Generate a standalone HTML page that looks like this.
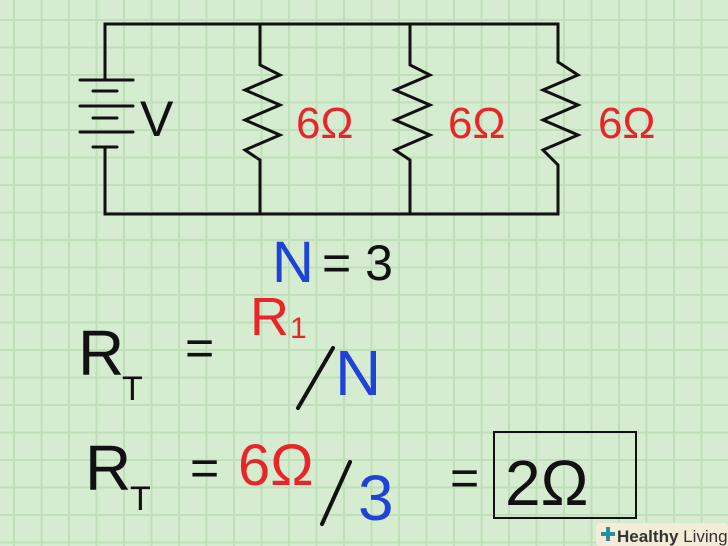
<!DOCTYPE html>
<html><head><style>
html,body{margin:0;padding:0;}
body{width:728px;height:546px;overflow:hidden;background:#d5ecd0;
background-image:linear-gradient(#bfdfb8 2px,transparent 2px),linear-gradient(90deg,#bfdfb8 2px,transparent 2px);
background-size:27.5px 27.5px;background-position:13px 19px;}
svg{position:absolute;left:0;top:0}
text{font-family:"Liberation Sans",sans-serif}
</style></head><body>
<svg width="728" height="546" viewBox="0 0 728 546">
<g stroke="#111" stroke-width="3" fill="none" stroke-linecap="round">
<polyline points="105,80 105,24 558,24 558,62"/>
<polyline points="105,147 105,214 558,214 558,170"/>
<line x1="80" y1="80" x2="133" y2="80"/><line x1="93" y1="91" x2="117" y2="91"/>
<line x1="80" y1="106" x2="133" y2="106"/><line x1="93" y1="118" x2="117" y2="118"/>
<line x1="80" y1="132" x2="133" y2="132"/><line x1="93" y1="147" x2="117" y2="147"/>
<polyline points="260,24 260,65 280,75 245,90 280,105 245,120 280,135 245,150 260,160 260,214"/>
<polyline points="410,24 410,65 430,75 395,90 430,105 395,120 430,135 395,150 410,160 410,214"/>
<polyline points="558,62 578,75 543,90 578,105 543,120 578,135 543,150 558,165 558,170"/>
<line x1="298" y1="408" x2="333" y2="348" stroke-width="4"/>
<line x1="322" y1="524" x2="350" y2="462" stroke-width="4"/>
</g>
<g font-size="50" fill="#111">
<text x="140" y="136">V</text>
</g>
<g font-size="44" fill="#e8262a">
<text x="296" y="138">6Ω</text><text x="448" y="138">6Ω</text><text x="598" y="138">6Ω</text>
</g>
<text x="272" y="282" font-size="58" fill="#1f43d8">N</text>
<text x="322" y="280" font-size="50" fill="#111">= 3</text>
<text x="78" y="375" font-size="64" fill="#111">R</text>
<text x="122" y="400" font-size="34" fill="#111">T</text>
<text x="185" y="365" font-size="50" fill="#111">=</text>
<text x="250" y="335" font-size="54" fill="#e8262a">R</text>
<text x="290" y="338" font-size="30" fill="#e8262a">1</text>
<text x="335" y="395" font-size="64" fill="#1f43d8">N</text>
<text x="85" y="490" font-size="64" fill="#111">R</text>
<text x="130" y="510" font-size="34" fill="#111">T</text>
<text x="190" y="485" font-size="50" fill="#111">=</text>
<text x="238" y="485" font-size="58" fill="#e8262a">6Ω</text>
<text x="358" y="520" font-size="64" fill="#1f43d8">3</text>
<text x="450" y="495" font-size="50" fill="#111">=</text>
<rect x="494" y="432" width="142" height="86" fill="none" stroke="#111" stroke-width="2"/>
<text x="505" y="505" font-size="64" fill="#111">2Ω</text>
<rect x="596" y="523" width="132" height="23" fill="#f3ecd6" rx="4"/>
<rect x="601" y="532" width="14" height="4" fill="#2a8fa0"/><rect x="606" y="527" width="4" height="14" fill="#2a8fa0"/>
<text x="617" y="542" font-size="17" fill="#333"><tspan font-weight="bold">Healthy</tspan> Living</text>
</svg>
</body></html>
